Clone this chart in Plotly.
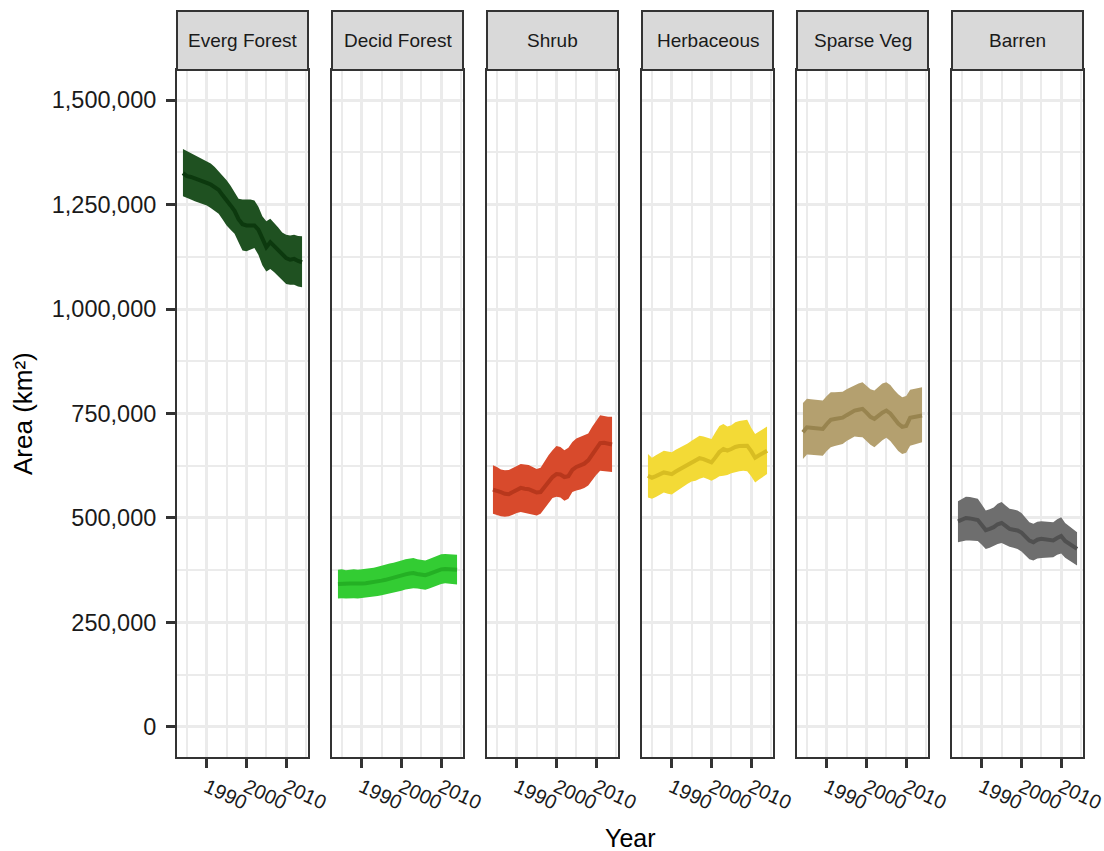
import plotly.graph_objects as go

years = list(range(1984, 2015))
classes = ["Everg Forest", "Decid Forest", "Shrub", "Herbaceous", "Sparse Veg", "Barren"]

# values in thousands of km²
everg_mean = [1325, 1318, 1316, 1313, 1310, 1306, 1302, 1298, 1292, 1285, 1272, 1258, 1248, 1235, 1215, 1203,
              1200, 1200, 1200, 1190, 1168, 1148, 1160, 1150, 1140, 1130, 1122, 1118, 1120, 1115, 1112]
everg_upper = [1383, 1378, 1372, 1368, 1363, 1358, 1352, 1348, 1340, 1330, 1320, 1308, 1295, 1278, 1264, 1262,
               1262, 1262, 1260, 1245, 1222, 1210, 1216, 1206, 1195, 1183, 1178, 1176, 1178, 1175, 1174]
everg_lower = [1270, 1265, 1262, 1258, 1255, 1252, 1248, 1242, 1236, 1228, 1214, 1200, 1190, 1180, 1160, 1140,
               1138, 1142, 1146, 1130, 1105, 1090, 1096, 1088, 1078, 1068, 1060, 1058, 1058, 1054, 1052]

decid_mean = [342, 343, 342, 343, 343, 342, 343, 344, 345, 346, 348, 350, 352, 355, 357, 359,
              362, 365, 367, 368, 366, 364, 363, 366, 370, 374, 377, 378, 377, 376, 376]
decid_upper = [376, 377, 375, 376, 377, 376, 377, 378, 379, 381, 383, 386, 388, 391, 393, 395,
               398, 401, 403, 404, 401, 399, 398, 402, 406, 410, 413, 414, 413, 412, 412]
decid_lower = [307, 308, 307, 308, 308, 307, 308, 309, 310, 311, 313, 315, 317, 319, 321, 323,
               326, 329, 331, 332, 331, 329, 328, 331, 335, 339, 342, 344, 343, 341, 341]

shrub_mean = [568, 566, 562, 558, 557, 562, 568, 572, 570, 569, 565, 561, 562, 575, 588, 598,
              605, 604, 598, 600, 615, 622, 626, 630, 638, 652, 666, 679, 680, 677, 676]
shrub_upper = [626, 622, 616, 614, 615, 620, 626, 629, 628, 627, 622, 617, 620, 636, 650, 662,
               672, 670, 662, 668, 682, 690, 694, 698, 702, 718, 732, 746, 744, 742, 742]
shrub_lower = [510, 507, 504, 503, 504, 508, 512, 514, 512, 511, 508, 506, 510, 522, 536, 548,
               551, 549, 541, 546, 562, 566, 568, 572, 578, 592, 603, 613, 612, 610, 610]

herb_mean = [601, 596, 600, 605, 609, 607, 605, 611, 616, 621, 626, 632, 636, 643, 641, 636,
             633, 645, 658, 665, 661, 665, 670, 672, 673, 673, 660, 644, 650, 656, 661]
herb_upper = [653, 644, 650, 656, 661, 659, 657, 663, 668, 671, 678, 685, 690, 697, 695, 692,
              689, 705, 720, 725, 719, 722, 729, 732, 734, 735, 716, 701, 707, 713, 719]
herb_lower = [549, 546, 550, 556, 561, 558, 556, 563, 570, 577, 582, 587, 589, 594, 597, 593,
              589, 594, 600, 601, 603, 607, 610, 612, 613, 612, 600, 585, 592, 598, 605]

sparse_mean = [705, 717, 716, 715, 714, 713, 725, 735, 737, 738, 740, 746, 752, 757, 759, 761,
               752, 742, 737, 745, 752, 757, 750, 738, 726, 718, 720, 740, 742, 744, 745]
sparse_upper = [775, 785, 784, 783, 782, 781, 792, 801, 801, 801, 802, 808, 813, 817, 822, 825,
                816, 808, 805, 813, 822, 825, 818, 806, 796, 789, 792, 807, 809, 811, 813]
sparse_lower = [641, 652, 651, 650, 650, 649, 660, 669, 672, 675, 677, 684, 690, 695, 694, 693,
                684, 675, 669, 678, 686, 692, 684, 672, 660, 653, 656, 673, 676, 678, 681]

barren_mean = [492, 496, 500, 499, 497, 495, 483, 471, 474, 478, 485, 488, 481, 474, 472, 470,
               465, 456, 446, 442, 448, 450, 449, 447, 446, 452, 457, 445, 438, 431, 426]
barren_upper = [540, 545, 551, 550, 548, 546, 532, 518, 521, 525, 534, 538, 530, 522, 520, 518,
                512, 502, 490, 486, 491, 492, 491, 490, 490, 497, 502, 488, 480, 472, 466]
barren_lower = [442, 444, 446, 446, 446, 445, 436, 426, 429, 434, 438, 440, 435, 431, 429, 426,
                420, 410, 401, 398, 403, 404, 405, 406, 406, 412, 415, 405, 398, 392, 386]

means = [everg_mean, decid_mean, shrub_mean, herb_mean, sparse_mean, barren_mean]
uppers = [everg_upper, decid_upper, shrub_upper, herb_upper, sparse_upper, barren_upper]
lowers = [everg_lower, decid_lower, shrub_lower, herb_lower, sparse_lower, barren_lower]

band_colors = ["#1f5121", "#33cc33", "#d84a2c", "#f3da36", "#b4a06f", "#6e6e6e"]
line_colors = ["#0c390e", "#24b024", "#b8371c", "#d8bd22", "#98844f", "#505050"]

y_ticks = [0, 250000, 500000, 750000, 1000000, 1250000, 1500000]

W, H = 1104, 851
L, R, T, B = 177, 21, 11, 94
PW = W - L - R
PH = H - T - B
panel_w = 131
step = 155
ytop = 687 / PH

FONT = "Liberation Sans, Arial, sans-serif"
GRID = "#ebebeb"
DARK = "#333333"

fig = go.Figure()
layout = dict(
    width=W, height=H,
    margin=dict(l=L, r=R, t=T, b=B, autoexpand=False),
    paper_bgcolor="white", plot_bgcolor="white",
    showlegend=False,
    font=dict(family=FONT, color="#1a1a1a"),
    shapes=[], annotations=[],
)

for i, name in enumerate(classes):
    sx = "" if i == 0 else str(i + 1)
    xa, ya = "x" + sx, "y" + sx
    lo = [v * 1000 for v in lowers[i]]
    up = [v * 1000 for v in uppers[i]]
    mn = [v * 1000 for v in means[i]]
    fig.add_trace(go.Scatter(x=years, y=lo, mode="lines", line=dict(width=0, color=band_colors[i]),
                             xaxis=xa, yaxis=ya, hoverinfo="skip"))
    fig.add_trace(go.Scatter(x=years, y=up, mode="lines", line=dict(width=0, color=band_colors[i]),
                             fill="tonexty", fillcolor=band_colors[i], xaxis=xa, yaxis=ya, hoverinfo="skip"))
    fig.add_trace(go.Scatter(x=years, y=mn, mode="lines", line=dict(width=4, color=line_colors[i]),
                             xaxis=xa, yaxis=ya, name=name))

    d0 = step * i / PW
    d1 = (step * i + panel_w) / PW
    layout["xaxis" + sx] = dict(
        domain=[d0, d1], anchor=ya, range=[1982.5, 2015.5], automargin=False,
        tickmode="linear", tick0=1990, dtick=10, ticklabeloverflow="allow",
        minor=dict(tick0=1985, dtick=5, showgrid=True, gridcolor=GRID, gridwidth=1.5),
        showgrid=True, gridcolor=GRID, gridwidth=2.5, zeroline=False,
        ticks="outside", ticklen=9, tickwidth=2.5, tickcolor=DARK,
        tickangle=25, tickfont=dict(size=20, color="#1a1a1a", family=FONT),
        showline=True, mirror=True, linecolor=DARK, linewidth=2,
    )
    yax = dict(
        domain=[0, ytop], anchor=xa, range=[-72000, 1572000], automargin=False,
        tickmode="array", tickvals=y_ticks,
        ticktext=[f"{v:,}" for v in y_ticks],
        minor=dict(tick0=125000, dtick=250000, showgrid=True, gridcolor=GRID, gridwidth=1.5),
        showgrid=True, gridcolor=GRID, gridwidth=2.5, zeroline=False,
        showline=True, mirror=True, linecolor=DARK, linewidth=2,
    )
    if i == 0:
        yax.update(ticks="outside", ticklen=9, tickwidth=2.5, tickcolor=DARK, ticklabelstandoff=5,
                   tickfont=dict(size=23.5, color="#1a1a1a", family=FONT), showticklabels=True)
    else:
        yax.update(matches="y", ticks="", showticklabels=False)
    layout["yaxis" + sx] = yax

    layout["shapes"].append(dict(type="rect", xref="paper", yref="paper",
                                 x0=d0, x1=d1, y0=ytop, y1=1.0,
                                 fillcolor="#d9d9d9", line=dict(color=DARK, width=2)))
    layout["annotations"].append(dict(text=name, xref="paper", yref="paper",
                                      x=(d0 + d1) / 2, y=(ytop + 1) / 2,
                                      xanchor="center", yanchor="middle", showarrow=False,
                                      font=dict(size=19, color="#1a1a1a", family=FONT)))

layout["annotations"].append(dict(text="Year", xref="paper", yref="paper",
                                  x=(step * 5 + panel_w) / 2 / PW, y=-81 / PH, xanchor="center", yanchor="middle",
                                  showarrow=False, font=dict(size=25, color="#000", family=FONT)))
layout["annotations"].append(dict(text="Area (km²)", xref="paper", yref="paper",
                                  x=(22.5 - L) / PW, y=ytop / 2, xanchor="center", yanchor="middle",
                                  textangle=-90, showarrow=False,
                                  font=dict(size=26, color="#000", family=FONT)))

fig.update_layout(**layout)
fig.write_html("out.html")
